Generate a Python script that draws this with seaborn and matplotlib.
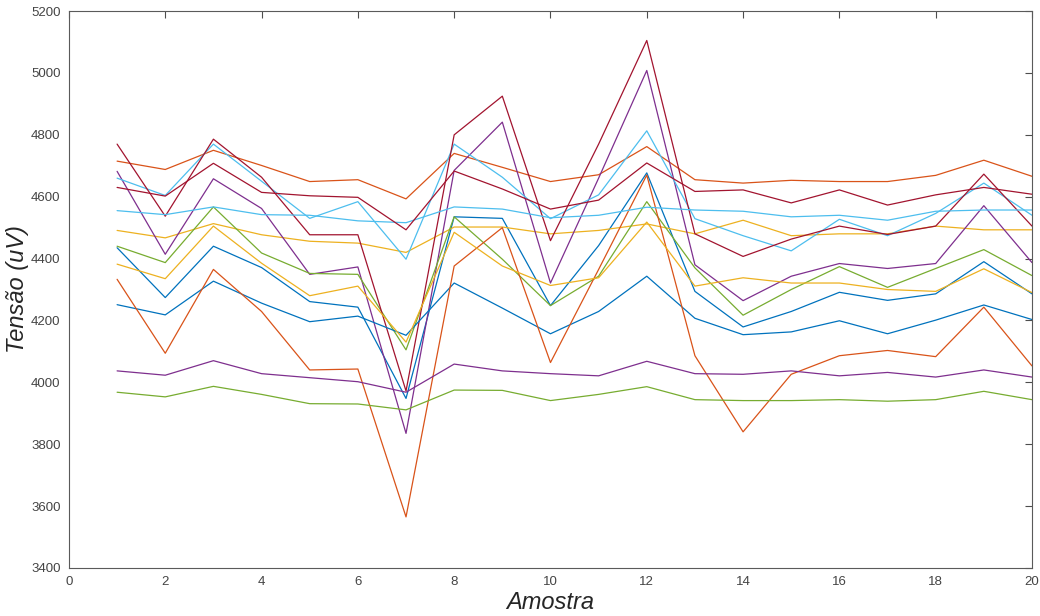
import numpy as np
import pandas as pd
import matplotlib
matplotlib.use("Agg")
import matplotlib.pyplot as plt
import seaborn as sns

amostra = list(range(1, 21))

bl1 = [4435, 4274, 4440, 4371, 4261, 4243, 3948, 4535, 4530, 4248, 4442, 4677, 4294, 4179, 4229, 4291, 4265, 4286, 4390, 4286]
or1 = [4715, 4688, 4750, 4701, 4649, 4655, 4593, 4740, 4695, 4649, 4671, 4762, 4655, 4644, 4653, 4649, 4649, 4669, 4718, 4666]
ye1 = [4491, 4467, 4513, 4477, 4456, 4450, 4420, 4502, 4502, 4480, 4491, 4512, 4480, 4524, 4474, 4480, 4480, 4505, 4493, 4493]
pu1 = [4682, 4414, 4658, 4562, 4349, 4373, 3835, 4685, 4841, 4321, 4660, 5008, 4380, 4264, 4343, 4384, 4368, 4384, 4571, 4387]
gr1 = [4440, 4387, 4567, 4418, 4352, 4349, 4105, 4535, 4398, 4248, 4343, 4584, 4370, 4217, 4300, 4374, 4307, 4368, 4429, 4345]
cy1 = [4660, 4604, 4770, 4650, 4530, 4584, 4398, 4770, 4663, 4529, 4606, 4813, 4529, 4474, 4425, 4527, 4474, 4546, 4644, 4540]
dr1 = [4770, 4537, 4786, 4663, 4477, 4477, 3972, 4800, 4925, 4458, 4770, 5105, 4480, 4407, 4463, 4505, 4478, 4505, 4673, 4505]
bl2 = [4251, 4218, 4327, 4256, 4196, 4214, 4152, 4321, 4240, 4157, 4229, 4343, 4207, 4154, 4163, 4199, 4157, 4201, 4250, 4203]
or2 = [4333, 4094, 4365, 4229, 4040, 4043, 3565, 4376, 4500, 4064, 4365, 4670, 4086, 3840, 4026, 4086, 4103, 4083, 4243, 4053]
ye2 = [4382, 4335, 4505, 4385, 4280, 4311, 4130, 4485, 4376, 4313, 4338, 4518, 4311, 4338, 4321, 4321, 4300, 4294, 4367, 4290]
pu2 = [4037, 4023, 4070, 4028, 4015, 4002, 3968, 4059, 4037, 4028, 4021, 4068, 4028, 4026, 4037, 4021, 4032, 4017, 4040, 4017]
gr2 = [3968, 3953, 3987, 3961, 3931, 3930, 3911, 3975, 3974, 3941, 3961, 3986, 3944, 3941, 3941, 3944, 3939, 3944, 3971, 3944]
cy2 = [4555, 4542, 4567, 4542, 4540, 4522, 4516, 4567, 4560, 4532, 4540, 4566, 4557, 4553, 4535, 4540, 4524, 4553, 4557, 4557]
dr2 = [4630, 4602, 4708, 4614, 4603, 4598, 4493, 4683, 4625, 4560, 4589, 4709, 4617, 4622, 4580, 4622, 4573, 4606, 4630, 4608]

series = {
    "s1": bl1, "s2": or1, "s3": ye1, "s4": pu1, "s5": gr1, "s6": cy1, "s7": dr1,
    "s8": bl2, "s9": or2, "s10": ye2, "s11": pu2, "s12": gr2, "s13": cy2, "s14": dr2,
}
matlab_colors = ["#0072BD", "#D95319", "#EDB120", "#7E2F8E", "#77AC30", "#4DBEEE", "#A2142F"]
names = list(series.keys())
palette = {n: matlab_colors[i % 7] for i, n in enumerate(names)}

rows = []
for n, vals in series.items():
    for x, v in zip(amostra, vals):
        rows.append({"Amostra": x, "Tensao": v, "serie": n})
df = pd.DataFrame(rows)

sns.set_style("white")
plt.rcParams["font.family"] = ["Liberation Sans", "DejaVu Sans"]

fig = plt.figure(figsize=(10.4, 6.16), dpi=100)
ax = fig.add_axes([0.0663, 0.078, 0.926, 0.904])

sns.lineplot(data=df, x="Amostra", y="Tensao", hue="serie", hue_order=names,
             palette=palette, legend=False, linewidth=0.9, ax=ax)

ax.set_xlim(0, 20)
ax.set_ylim(3400, 5200)
ax.set_xticks(range(0, 21, 2))
ax.set_yticks(range(3400, 5201, 200))
ax.tick_params(direction="in", top=True, right=True, length=5, width=0.8,
               color="#4d4d4d", labelcolor="#444444", labelsize=9.5, pad=6)
for s in ax.spines.values():
    s.set_visible(True)
    s.set_color("#5a5a5a")
    s.set_linewidth(0.8)

ax.set_xlabel("Amostra", fontsize=17, style="italic", color="#262626")
ax.set_ylabel("Tensão (uV)", fontsize=17, style="italic", color="#262626")
ax.yaxis.set_label_coords(-0.041, 0.5)
ax.xaxis.set_label_coords(0.5, -0.042)

fig.savefig("out.png", dpi=100)
